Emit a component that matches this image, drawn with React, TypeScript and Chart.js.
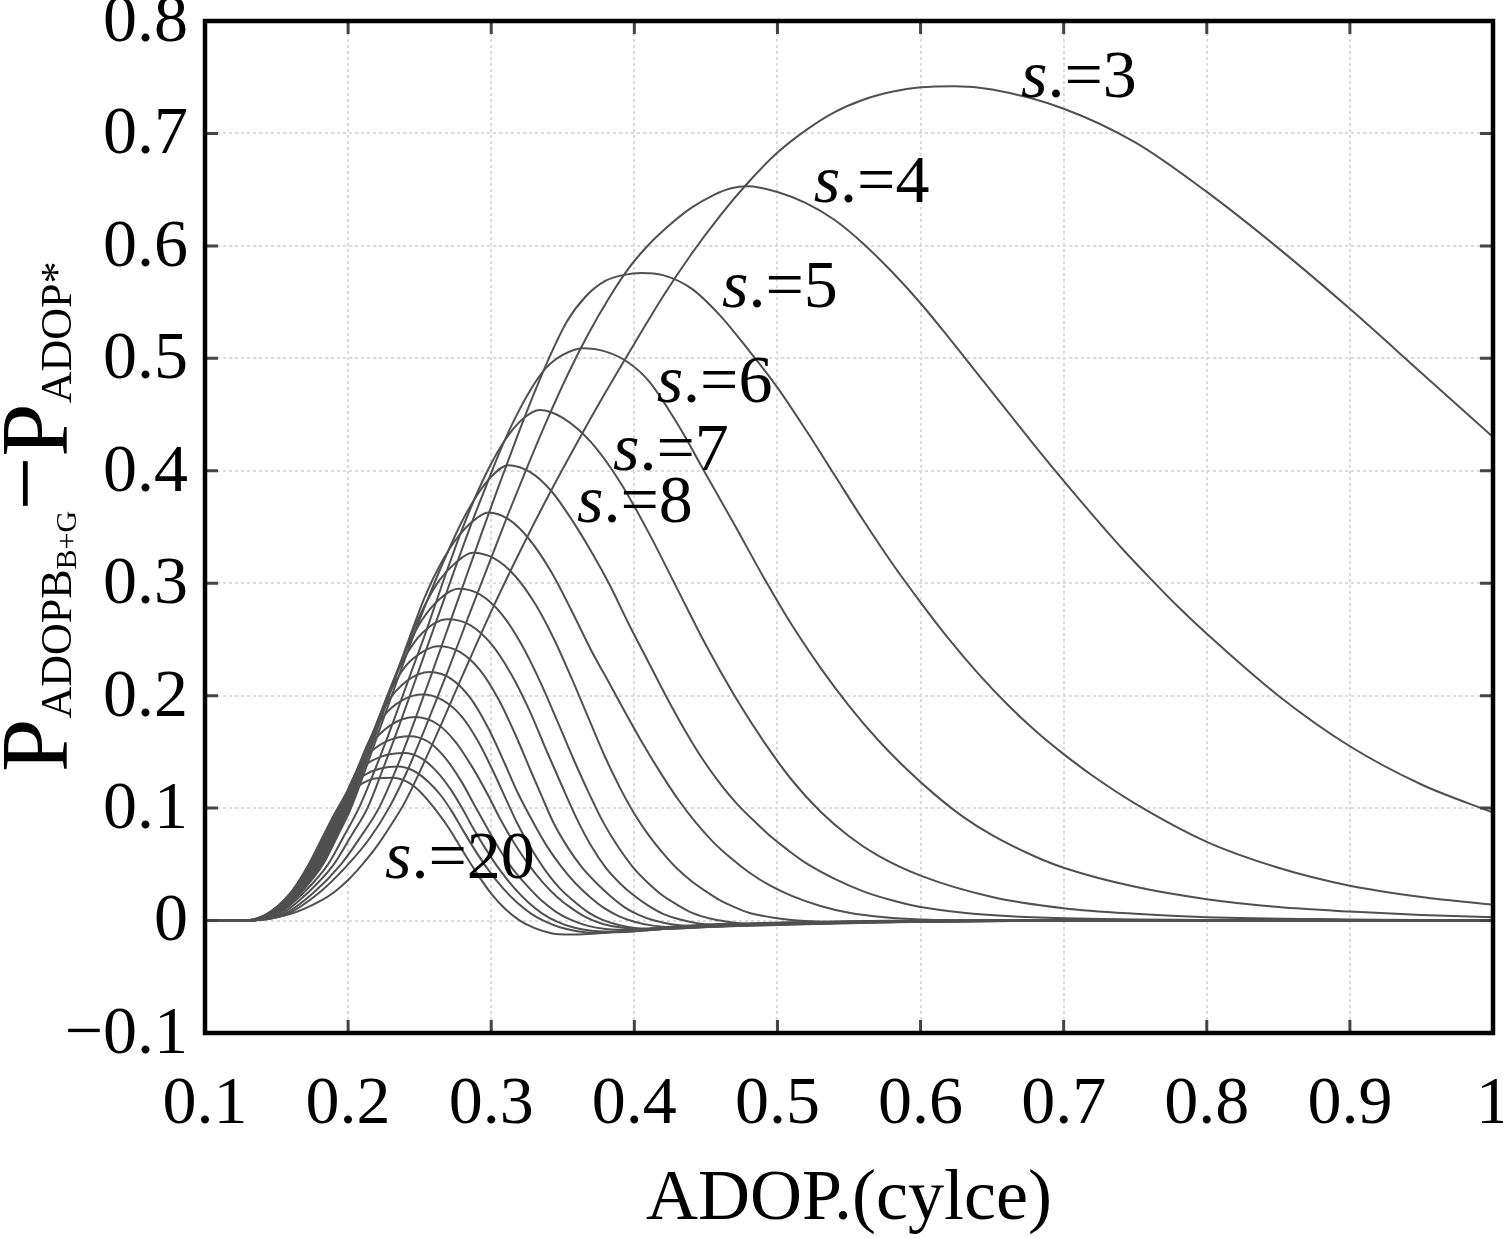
import React, { useEffect, useRef } from "react";
import { Chart, registerables } from "chart.js";

Chart.register(...registerables);

const FONT = "'Liberation Serif', 'Times New Roman', serif";

// ---- data: one curve per s. value, as [ADOP, difference] pairs ----
const S_VALUES = [3, 4, 5, 6, 7, 8, 9, 10, 11, 12, 13, 14, 15, 16, 17, 18, 19, 20];

const CURVE_S3: [number, number][] = [[0.10,0],[0.13,0],[0.16,0.006],[0.18,0.017],[0.19,0.025],[0.20,0.036],[0.21,0.05],[0.22,0.066],[0.23,0.085],[0.24,0.106],[0.26,0.16],[0.28,0.218],[0.30,0.275],[0.32,0.328],[0.34,0.378],[0.36,0.425],[0.38,0.47],[0.40,0.513],[0.42,0.555],[0.44,0.593],[0.46,0.627],[0.48,0.657],[0.50,0.683],[0.52,0.703],[0.54,0.719],[0.56,0.73],[0.58,0.737],[0.60,0.741],[0.624,0.742],[0.65,0.739],[0.70,0.722],[0.75,0.692],[0.80,0.648],[0.85,0.598],[0.90,0.544],[0.95,0.487],[1.00,0.43]];
const CURVE_S4: [number, number][] = [[0.10,0],[0.13,0],[0.156,0.005],[0.18,0.025],[0.20,0.05],[0.215,0.073],[0.2285,0.1],[0.242,0.135],[0.256,0.178],[0.27,0.223],[0.284,0.27],[0.298,0.316],[0.312,0.362],[0.326,0.406],[0.34,0.448],[0.354,0.487],[0.368,0.522],[0.382,0.553],[0.396,0.58],[0.41,0.601],[0.425,0.619],[0.44,0.634],[0.455,0.645],[0.467,0.651],[0.479,0.653],[0.50,0.648],[0.52,0.638],[0.54,0.623],[0.56,0.602],[0.58,0.577],[0.60,0.549],[0.62,0.518],[0.64,0.486],[0.66,0.454],[0.68,0.422],[0.70,0.391],[0.72,0.361],[0.74,0.332],[0.76,0.305],[0.78,0.279],[0.80,0.255],[0.85,0.2],[0.90,0.155],[0.95,0.121],[1.00,0.096]];
const CURVE_S5: [number, number][] = [[0.10,0],[0.13,0],[0.154,0.005],[0.176,0.025],[0.195,0.05],[0.209,0.075],[0.2215,0.1],[0.234,0.136],[0.246,0.176],[0.258,0.218],[0.27,0.261],[0.282,0.304],[0.294,0.347],[0.306,0.389],[0.318,0.43],[0.33,0.469],[0.341,0.502],[0.353,0.533],[0.366,0.555],[0.38,0.569],[0.392,0.574],[0.405,0.576],[0.42,0.574],[0.44,0.562],[0.46,0.538],[0.48,0.507],[0.50,0.474],[0.52,0.436],[0.54,0.396],[0.56,0.356],[0.58,0.318],[0.60,0.283],[0.62,0.25],[0.64,0.22],[0.66,0.193],[0.68,0.169],[0.70,0.148],[0.72,0.129],[0.75,0.104],[0.80,0.07],[0.85,0.047],[0.90,0.031],[0.95,0.021],[1.00,0.014]];
const CURVE_S6: [number, number][] = [[0.10,0],[0.13,0],[0.152,0.005],[0.172,0.025],[0.19,0.05],[0.202,0.075],[0.2135,0.1],[0.225,0.137],[0.237,0.178],[0.249,0.221],[0.261,0.264],[0.273,0.307],[0.285,0.349],[0.296,0.385],[0.306,0.417],[0.316,0.445],[0.327,0.471],[0.338,0.491],[0.35,0.503],[0.364,0.509],[0.38,0.506],[0.395,0.497],[0.41,0.48],[0.43,0.442],[0.45,0.397],[0.47,0.352],[0.49,0.306],[0.51,0.263],[0.53,0.225],[0.55,0.191],[0.57,0.161],[0.59,0.135],[0.61,0.112],[0.63,0.092],[0.65,0.076],[0.68,0.057],[0.70,0.047],[0.75,0.03],[0.80,0.019],[0.85,0.012],[0.90,0.008],[0.95,0.005],[1.00,0.003]];
const CURVE_S7: [number, number][] = [[0.10,0],[0.13,0],[0.15,0.005],[0.169,0.025],[0.186,0.05],[0.197,0.075],[0.2075,0.1],[0.219,0.135],[0.231,0.175],[0.243,0.217],[0.255,0.259],[0.266,0.3],[0.277,0.339],[0.288,0.374],[0.299,0.404],[0.31,0.428],[0.322,0.446],[0.334,0.454],[0.35,0.447],[0.37,0.425],[0.39,0.39],[0.41,0.345],[0.43,0.295],[0.45,0.245],[0.47,0.2],[0.49,0.16],[0.51,0.125],[0.53,0.097],[0.55,0.075],[0.57,0.058],[0.60,0.04],[0.65,0.021],[0.70,0.011],[0.75,0.006],[0.80,0.003],[0.90,0.001],[1.00,0]];
const CURVE_S8: [number, number][] = [[0.10,0],[0.13,0],[0.149,0.005],[0.167,0.025],[0.1825,0.05],[0.1925,0.075],[0.202,0.1],[0.212,0.134],[0.222,0.17],[0.233,0.209],[0.245,0.251],[0.257,0.29],[0.269,0.326],[0.28,0.356],[0.291,0.38],[0.301,0.396],[0.312,0.405],[0.327,0.399],[0.342,0.382],[0.356,0.357],[0.37,0.328],[0.383,0.298],[0.396,0.264],[0.409,0.232],[0.422,0.2],[0.435,0.17],[0.448,0.143],[0.461,0.12],[0.473,0.102],[0.485,0.087],[0.496,0.074],[0.507,0.063],[0.52,0.051],[0.54,0.037],[0.56,0.026],[0.58,0.018],[0.60,0.012],[0.63,0.007],[0.66,0.004],[0.70,0.002],[0.80,0.0005],[1.00,0]];
const CURVE_S9: [number, number][] = [[0.10,0],[0.13,0],[0.1483,0.005],[0.1663,0.025],[0.1815,0.05],[0.1915,0.075],[0.201,0.1],[0.211,0.135],[0.221,0.172],[0.232,0.212],[0.243,0.252],[0.254,0.289],[0.265,0.318],[0.276,0.34],[0.287,0.355],[0.298,0.363],[0.312,0.357],[0.326,0.34],[0.342,0.31],[0.356,0.276],[0.37,0.24],[0.383,0.21],[0.395,0.182],[0.407,0.155],[0.419,0.13],[0.431,0.107],[0.443,0.087],[0.455,0.07],[0.467,0.056],[0.48,0.043],[0.495,0.031],[0.51,0.022],[0.53,0.013],[0.55,0.007],[0.575,0.003],[0.60,0.001],[0.65,0],[1.00,0]];
const CURVE_S10: [number, number][] = [[0.10,0],[0.13,0],[0.1476,0.005],[0.1656,0.025],[0.1805,0.05],[0.1905,0.075],[0.2,0.1],[0.21,0.135],[0.22,0.171],[0.231,0.21],[0.242,0.247],[0.253,0.279],[0.264,0.303],[0.275,0.318],[0.287,0.327],[0.302,0.322],[0.317,0.306],[0.331,0.281],[0.344,0.25],[0.356,0.216],[0.368,0.18],[0.379,0.147],[0.39,0.118],[0.40,0.095],[0.41,0.076],[0.42,0.06],[0.43,0.046],[0.44,0.035],[0.45,0.026],[0.46,0.018],[0.47,0.012],[0.48,0.007],[0.495,0.003],[0.51,0.0005],[0.53,-0.001],[0.56,-0.0015],[0.60,-0.001],[0.66,-0.0004],[0.76,0],[1.00,0]];
const CURVE_S11: [number, number][] = [[0.10,0],[0.13,0],[0.147,0.005],[0.165,0.025],[0.1797,0.05],[0.1897,0.075],[0.1992,0.1],[0.209,0.134],[0.219,0.17],[0.23,0.208],[0.241,0.242],[0.252,0.268],[0.264,0.286],[0.277,0.295],[0.292,0.29],[0.307,0.273],[0.321,0.246],[0.334,0.213],[0.346,0.178],[0.357,0.145],[0.368,0.114],[0.378,0.088],[0.389,0.065],[0.40,0.046],[0.41,0.033],[0.42,0.022],[0.43,0.014],[0.44,0.007],[0.452,0.002],[0.465,-0.001],[0.48,-0.003],[0.50,-0.0035],[0.53,-0.003],[0.57,-0.0018],[0.63,-0.0006],[0.74,0],[1.00,0]];
const CURVE_S12: [number, number][] = [[0.10,0],[0.1295,0],[0.1465,0.005],[0.1645,0.025],[0.1789,0.05],[0.1889,0.075],[0.1984,0.1],[0.208,0.133],[0.218,0.168],[0.229,0.205],[0.24,0.235],[0.252,0.256],[0.269,0.268],[0.285,0.263],[0.30,0.246],[0.314,0.219],[0.327,0.186],[0.338,0.153],[0.349,0.121],[0.36,0.09],[0.37,0.066],[0.38,0.047],[0.39,0.033],[0.40,0.022],[0.41,0.013],[0.42,0.006],[0.432,0.001],[0.445,-0.0025],[0.46,-0.004],[0.48,-0.0045],[0.51,-0.0035],[0.55,-0.002],[0.61,-0.0008],[0.72,0],[1.00,0]];
const CURVE_S13: [number, number][] = [[0.10,0],[0.129,0],[0.1459,0.005],[0.1639,0.025],[0.1781,0.05],[0.1881,0.075],[0.1976,0.1],[0.207,0.132],[0.217,0.166],[0.228,0.2],[0.24,0.226],[0.252,0.239],[0.263,0.244],[0.278,0.239],[0.292,0.223],[0.305,0.197],[0.317,0.165],[0.327,0.135],[0.3355,0.11],[0.3435,0.087],[0.353,0.066],[0.363,0.048],[0.373,0.034],[0.383,0.022],[0.393,0.012],[0.403,0.005],[0.414,0],[0.427,-0.0035],[0.443,-0.005],[0.465,-0.005],[0.49,-0.004],[0.53,-0.0022],[0.59,-0.001],[0.70,0],[1.00,0]];
const CURVE_S14: [number, number][] = [[0.10,0],[0.1284,0],[0.1454,0.005],[0.1634,0.025],[0.1773,0.05],[0.1873,0.075],[0.1968,0.1],[0.206,0.131],[0.216,0.163],[0.227,0.193],[0.241,0.213],[0.257,0.221],[0.272,0.215],[0.286,0.197],[0.298,0.171],[0.309,0.141],[0.318,0.115],[0.3295,0.087],[0.339,0.066],[0.349,0.048],[0.359,0.033],[0.369,0.021],[0.379,0.011],[0.389,0.004],[0.40,-0.001],[0.413,-0.0045],[0.43,-0.006],[0.45,-0.0058],[0.48,-0.0042],[0.52,-0.0025],[0.58,-0.001],[0.68,0],[1.00,0]];
const CURVE_S15: [number, number][] = [[0.10,0],[0.1278,0],[0.1448,0.005],[0.1628,0.025],[0.1765,0.05],[0.1865,0.075],[0.196,0.1],[0.205,0.13],[0.214,0.158],[0.225,0.182],[0.238,0.196],[0.252,0.201],[0.266,0.196],[0.279,0.182],[0.291,0.159],[0.302,0.131],[0.311,0.106],[0.318,0.087],[0.327,0.066],[0.337,0.046],[0.347,0.030],[0.357,0.018],[0.367,0.008],[0.377,0.001],[0.389,-0.004],[0.403,-0.007],[0.42,-0.0075],[0.44,-0.0065],[0.47,-0.0045],[0.51,-0.0025],[0.57,-0.001],[0.66,0],[1.00,0]];
const CURVE_S16: [number, number][] = [[0.10,0],[0.1272,0],[0.1442,0.005],[0.1622,0.025],[0.1757,0.05],[0.1857,0.075],[0.1952,0.1],[0.204,0.128],[0.215,0.155],[0.23,0.174],[0.247,0.181],[0.262,0.175],[0.275,0.159],[0.287,0.136],[0.298,0.111],[0.306,0.091],[0.316,0.069],[0.326,0.05],[0.336,0.034],[0.346,0.021],[0.356,0.011],[0.366,0.003],[0.378,-0.003],[0.392,-0.0065],[0.41,-0.0075],[0.43,-0.007],[0.46,-0.005],[0.50,-0.003],[0.56,-0.0012],[0.66,0],[1.00,0]];
const CURVE_S17: [number, number][] = [[0.10,0],[0.1267,0],[0.1437,0.005],[0.1617,0.025],[0.1749,0.05],[0.1849,0.075],[0.1944,0.1],[0.203,0.125],[0.213,0.146],[0.227,0.1595],[0.243,0.164],[0.256,0.159],[0.268,0.1445],[0.279,0.124],[0.289,0.101],[0.296,0.085],[0.305,0.065],[0.315,0.046],[0.325,0.031],[0.335,0.018],[0.345,0.008],[0.355,0.001],[0.367,-0.0045],[0.38,-0.0075],[0.40,-0.0085],[0.42,-0.0075],[0.45,-0.005],[0.49,-0.003],[0.55,-0.001],[0.65,0],[1.00,0]];
const CURVE_S18: [number, number][] = [[0.10,0],[0.1261,0],[0.1431,0.005],[0.1611,0.025],[0.1741,0.05],[0.1841,0.075],[0.1936,0.1],[0.202,0.121],[0.212,0.138],[0.225,0.1465],[0.239,0.149],[0.251,0.1445],[0.262,0.1325],[0.272,0.116],[0.281,0.097],[0.287,0.083],[0.296,0.064],[0.306,0.045],[0.316,0.029],[0.326,0.016],[0.336,0.006],[0.346,-0.001],[0.357,-0.006],[0.37,-0.009],[0.385,-0.01],[0.40,-0.0095],[0.42,-0.0075],[0.45,-0.005],[0.49,-0.0028],[0.55,-0.001],[0.64,0],[1.00,0]];
const CURVE_S19: [number, number][] = [[0.10,0],[0.1256,0],[0.1426,0.005],[0.1606,0.025],[0.1733,0.05],[0.1833,0.075],[0.1928,0.1],[0.201,0.117],[0.211,0.129],[0.222,0.135],[0.235,0.137],[0.246,0.133],[0.256,0.1235],[0.265,0.111],[0.273,0.096],[0.279,0.083],[0.288,0.064],[0.298,0.045],[0.308,0.029],[0.318,0.016],[0.328,0.006],[0.338,-0.001],[0.348,-0.006],[0.36,-0.0095],[0.373,-0.011],[0.387,-0.0105],[0.40,-0.0095],[0.43,-0.0065],[0.47,-0.0035],[0.53,-0.0012],[0.62,0],[1.00,0]];
const CURVE_S20: [number, number][] = [[0.10,0],[0.125,0],[0.142,0.005],[0.16,0.025],[0.1725,0.05],[0.1825,0.075],[0.192,0.098],[0.20,0.112],[0.21,0.122],[0.22,0.1265],[0.231,0.127],[0.241,0.1235],[0.25,0.115],[0.258,0.1035],[0.265,0.092],[0.271,0.081],[0.28,0.062],[0.29,0.042],[0.30,0.024],[0.31,0.010],[0.32,0.0],[0.33,-0.0065],[0.342,-0.0112],[0.355,-0.0125],[0.368,-0.012],[0.382,-0.0105],[0.40,-0.008],[0.43,-0.005],[0.47,-0.0027],[0.53,-0.001],[0.62,0],[1.00,0]];

const CURVES = [CURVE_S3, CURVE_S4, CURVE_S5, CURVE_S6, CURVE_S7, CURVE_S8, CURVE_S9, CURVE_S10, CURVE_S11, CURVE_S12, CURVE_S13, CURVE_S14, CURVE_S15, CURVE_S16, CURVE_S17, CURVE_S18, CURVE_S19, CURVE_S20];

// ---- axes ----
const X_TICKS = [0.1, 0.2, 0.3, 0.4, 0.5, 0.6, 0.7, 0.8, 0.9, 1.0];
const X_TICK_LABELS = ["0.1", "0.2", "0.3", "0.4", "0.5", "0.6", "0.7", "0.8", "0.9", "1"];
const Y_TICKS = [-0.1, 0, 0.1, 0.2, 0.3, 0.4, 0.5, 0.6, 0.7, 0.8];
const Y_TICK_LABELS = ["\u22120.1", "0", "0.1", "0.2", "0.3", "0.4", "0.5", "0.6", "0.7", "0.8"];
const X_TITLE = "ADOP.(cylce)";

// ---- curve annotations (s.=N), placed in data units ----
const LABEL_S = ["3", "4", "5", "6", "7", "8", "20"];
const LABEL_X = [0.6702, 0.5253, 0.4613, 0.4156, 0.3851, 0.3599, 0.2258];
const LABEL_Y = [0.7324, 0.639, 0.5456, 0.4612, 0.4007, 0.3544, 0.0378];

const overlayPlugin = {
  id: "overlay",
  afterDatasetsDraw(chart: any) {
    const { ctx, chartArea: a, scales } = chart;
    const xs = scales.x;
    const ys = scales.y;
    ctx.save();

    // inward tick marks
    ctx.strokeStyle = "#444";
    ctx.lineWidth = 3;
    ctx.beginPath();
    for (const v of Y_TICKS) {
      const p = ys.getPixelForValue(v);
      ctx.moveTo(a.left, p); ctx.lineTo(a.left + 13, p);
      ctx.moveTo(a.right, p); ctx.lineTo(a.right - 13, p);
    }
    for (const v of X_TICKS) {
      const p = xs.getPixelForValue(v);
      ctx.moveTo(p, a.bottom); ctx.lineTo(p, a.bottom - 13);
      ctx.moveTo(p, a.top); ctx.lineTo(p, a.top + 13);
    }
    ctx.stroke();

    // frame
    ctx.strokeStyle = "#000";
    ctx.lineWidth = 4.5;
    ctx.strokeRect(a.left, a.top, a.right - a.left, a.bottom - a.top);

    // curve labels
    ctx.fillStyle = "#000";
    ctx.textBaseline = "alphabetic";
    ctx.textAlign = "left";
    for (let i = 0; i < LABEL_S.length; i++) {
      const px = xs.getPixelForValue(LABEL_X[i]);
      const py = ys.getPixelForValue(LABEL_Y[i]);
      ctx.font = `italic 68px ${FONT}`;
      ctx.fillText("s", px, py);
      const w = ctx.measureText("s").width;
      ctx.font = `68px ${FONT}`;
      ctx.fillText(".=" + LABEL_S[i], px + w, py);
    }

    // x title
    ctx.font = `72px ${FONT}`;
    ctx.textAlign = "center";
    ctx.fillText(X_TITLE, (a.left + a.right) / 2, 1219);

    // y title (rotated, with subscripts)
    const runs = [
      { t: "P", s: 96, d: 0 },
      { t: "ADOPB", s: 44, d: 4 },
      { t: "B+G", s: 30, d: 9 },
      { t: "\u2212", s: 96, d: -10 },
      { t: "P", s: 96, d: 0 },
      { t: "ADOP*", s: 44, d: 4 },
    ];
    ctx.translate(67, 772);
    ctx.rotate(-Math.PI / 2);
    ctx.textAlign = "left";
    let cur = 0;
    for (const r of runs) {
      ctx.font = `${r.s}px ${FONT}`;
      ctx.fillText(r.t, cur, r.d);
      cur += ctx.measureText(r.t).width;
    }
    ctx.restore();
  },
};

export default function App() {
  const ref = useRef<HTMLCanvasElement>(null);

  useEffect(() => {
    if (!ref.current) return;
    const datasets = CURVES.map((pts, i) => ({
      label: "s.=" + S_VALUES[i],
      data: pts.map(([x, y]) => ({ x, y })),
      borderColor: "#505050",
      borderWidth: 2,
      pointRadius: 0,
      fill: false,
      cubicInterpolationMode: "monotone" as const,
    }));

    const tickFont = { family: FONT, size: 68, lineHeight: 1 };

    const chart = new Chart(ref.current, {
      type: "line",
      data: { datasets },
      options: {
        animation: false,
        responsive: false,
        devicePixelRatio: 1,
        parsing: false as any,
        layout: { padding: { top: 21, right: 10, left: 0, bottom: 0 } },
        plugins: { legend: { display: false }, tooltip: { enabled: false } },
        scales: {
          x: {
            type: "linear",
            min: 0.1,
            max: 1.0,
            afterBuildTicks: (s: any) => { s.ticks = X_TICKS.map((value) => ({ value })); },
            afterFit: (s: any) => { s.height = 205; s.paddingLeft = 0; s.paddingRight = 0; },
            ticks: {
              autoSkip: false,
              maxRotation: 0,
              padding: 38,
              color: "#000",
              font: tickFont,
              callback: (_v: any, i: number) => X_TICK_LABELS[i],
            },
            grid: { color: "#dcdcdc", lineWidth: 2, drawTicks: false },
            border: { display: false, dash: [3, 3] },
          },
          y: {
            type: "linear",
            min: -0.1,
            max: 0.8,
            afterBuildTicks: (s: any) => { s.ticks = Y_TICKS.map((value) => ({ value })); },
            afterFit: (s: any) => { s.width = 205; s.paddingTop = 0; s.paddingBottom = 0; },
            ticks: {
              autoSkip: false,
              padding: 17,
              labelOffset: 2,
              color: "#000",
              font: tickFont,
              callback: (_v: any, i: number) => Y_TICK_LABELS[i],
            },
            grid: { color: "#dcdcdc", lineWidth: 2, drawTicks: false },
            border: { display: false, dash: [3, 3] },
          },
        },
      },
      plugins: [overlayPlugin],
    });
    return () => chart.destroy();
  }, []);

  return (
    <div style={{ position: "fixed", left: 0, top: 0, width: 1503, height: 1238, background: "#fff" }}>
      <canvas ref={ref} width={1503} height={1238} style={{ width: 1503, height: 1238, display: "block" }} />
    </div>
  );
}
